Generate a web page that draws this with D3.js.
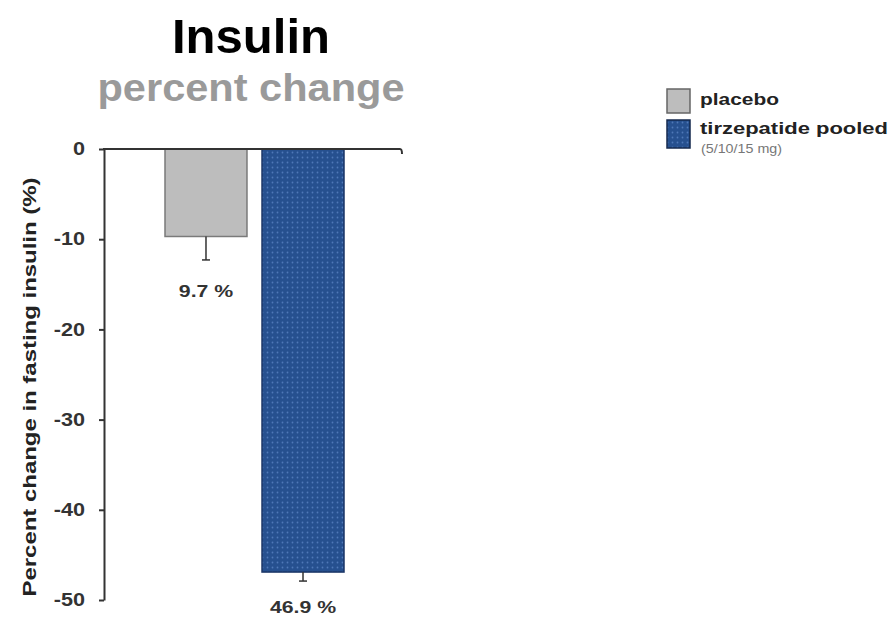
<!DOCTYPE html>
<html>
<head>
<meta charset="utf-8">
<script src="https://cdn.jsdelivr.net/npm/d3@7"></script>
<style>
body { margin: 0; background: #fff; }
svg { display: block; font-family: "Liberation Sans", Arial, sans-serif; }
</style>
</head>
<body>
<svg id="chart" width="894" height="619"></svg>
<script>
const categories = ["placebo", "tirzepatide pooled"];
const values = [-9.7, -46.9];
const errors = [2.6, 1.0];
const valueLabels = ["9.7 %", "46.9 %"];
const yTicks = [0, -10, -20, -30, -40, -50];
const legendLabels = ["placebo", "tirzepatide pooled"];
const legendSub = ["", "(5/10/15 mg)"];
const colors = ["#bdbdbd", "#26508f"];
const strokes = ["#7a7a7a", "#1a3566"];

const svg = d3.select("#chart");

function stretch(sel, factor) {
  sel.each(function() {
    const w = this.getComputedTextLength();
    d3.select(this).attr("textLength", w * factor).attr("lengthAdjust", "spacingAndGlyphs");
  });
}

// pattern for dotted blue bar
const defs = svg.append("defs");
const pat = defs.append("pattern").attr("id", "dots").attr("width", 5).attr("height", 5).attr("patternUnits", "userSpaceOnUse");
pat.append("rect").attr("width", 5).attr("height", 5).attr("fill", colors[1]);
pat.append("circle").attr("cx", 2.5).attr("cy", 2.5).attr("r", 0.9).attr("fill", "#4f78b8");

const y = d3.scaleLinear().domain([0, -50]).range([149, 600]);
const x = d3.scaleBand().domain(categories).range([165, 344]).paddingInner(0.155).paddingOuter(0);

// title
svg.append("text").attr("x", 251).attr("y", 53).attr("text-anchor", "middle")
  .attr("font-size", 48).attr("font-weight", "bold").attr("fill", "#000")
  .attr("textLength", 158).attr("lengthAdjust", "spacingAndGlyphs").text("Insulin");
svg.append("text").attr("x", 251).attr("y", 101).attr("text-anchor", "middle")
  .attr("font-size", 38).attr("font-weight", "bold").attr("fill", "#9a9a9a")
  .attr("textLength", 307).attr("lengthAdjust", "spacingAndGlyphs").text("percent change");

// bars
svg.selectAll("rect.bar").data(categories).enter().append("rect")
  .attr("class", "bar")
  .attr("x", d => x(d))
  .attr("width", x.bandwidth())
  .attr("y", y(0))
  .attr("height", (d, i) => y(values[i]) - y(0))
  .attr("fill", (d, i) => i === 1 ? "url(#dots)" : colors[i])
  .attr("stroke", (d, i) => strokes[i])
  .attr("stroke-width", 1.5);

// error bars
const eg = svg.selectAll("g.err").data(categories).enter().append("g").attr("class", "err");
eg.append("line")
  .attr("x1", d => x(d) + x.bandwidth() / 2).attr("x2", d => x(d) + x.bandwidth() / 2)
  .attr("y1", (d, i) => y(values[i])).attr("y2", (d, i) => y(values[i] - errors[i]))
  .attr("stroke", "#333").attr("stroke-width", 1.5);
eg.append("line")
  .attr("x1", d => x(d) + x.bandwidth() / 2 - 4).attr("x2", d => x(d) + x.bandwidth() / 2 + 4)
  .attr("y1", (d, i) => y(values[i] - errors[i])).attr("y2", (d, i) => y(values[i] - errors[i]))
  .attr("stroke", "#333").attr("stroke-width", 1.5);

// value labels
const labelY = [297, 613];
svg.selectAll("text.vl").data(categories).enter().append("text")
  .attr("class", "vl")
  .attr("x", d => x(d) + x.bandwidth() / 2)
  .attr("y", (d, i) => labelY[i])
  .attr("text-anchor", "middle").attr("font-size", 17).attr("font-weight", "bold").attr("fill", "#333")
  .text((d, i) => valueLabels[i])
  .call(stretch, 1.25);

// y axis
const yAxis = d3.axisLeft(y).tickValues(yTicks).tickSize(5).tickSizeOuter(0).tickFormat(d => String(d).replace("−", "-"));
const ga = svg.append("g").attr("transform", "translate(104,0)").call(yAxis);
ga.select(".domain").attr("stroke", "#333").attr("stroke-width", 2);
ga.selectAll(".tick line").attr("stroke", "#333").attr("stroke-width", 2);
ga.selectAll(".tick text").attr("font-size", 18).attr("font-weight", "bold").attr("fill", "#333")
  .attr("font-family", "Liberation Sans, Arial, sans-serif").attr("x", -19)
  .call(stretch, 1.2);

// x axis line
svg.append("path").attr("d", `M103,${y(0)} H400 q2,0 2,5`).attr("fill", "none")
  .attr("stroke", "#333").attr("stroke-width", 2);

// y label
svg.append("text").attr("transform", `translate(36,387) rotate(-90)`)
  .attr("text-anchor", "middle").attr("font-size", 18).attr("font-weight", "bold").attr("fill", "#222")
  .attr("textLength", 419).attr("lengthAdjust", "spacingAndGlyphs")
  .text("Percent change in fasting insulin (%)");

// legend
const lg = svg.append("g");
const ly = [89, 120];
const lh = [24, 28];
const lw = [79, 188];
const lb = [105, 134];
legendLabels.forEach((l, i) => {
  lg.append("rect").attr("x", 667).attr("y", ly[i]).attr("width", 23).attr("height", lh[i])
    .attr("fill", i === 1 ? "url(#dots)" : colors[i]).attr("stroke", i === 0 ? "#666" : "#14284d").attr("stroke-width", 1.5);
  lg.append("text").attr("x", 700).attr("y", lb[i]).attr("font-size", 17).attr("font-weight", "bold")
    .attr("fill", "#222").attr("textLength", lw[i]).attr("lengthAdjust", "spacingAndGlyphs").text(l);
  if (legendSub[i]) {
    lg.append("text").attr("x", 701).attr("y", 153).attr("font-size", 13).attr("fill", "#777")
      .attr("textLength", 81).attr("lengthAdjust", "spacingAndGlyphs").text(legendSub[i]);
  }
});
</script>
</body>
</html>
